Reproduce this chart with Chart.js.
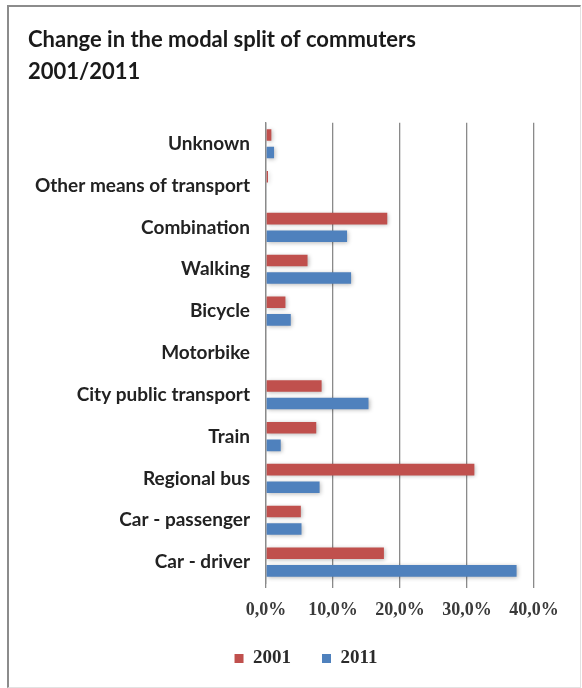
<!DOCTYPE html>
<html>
<head>
<meta charset="utf-8">
<script src="https://cdn.jsdelivr.net/npm/chart.js@4"></script>
<style>
  body { margin: 0; background: #fff; }
  #frame {
    position: absolute; left: 7px; top: 5px; width: 571px; height: 680px;
    border-left: 2px solid #8c8c8c; border-top: 2px solid #8c8c8c;
    border-right: 1px solid #e2e2e2; border-bottom: 1px solid #e2e2e2;
  }
  #chart { display: block; }
</style>
</head>
<body>
<div id="frame"><canvas id="chart" width="571" height="680"></canvas></div>
<script>
// modes of transport, top to bottom
const categories = [
    'Unknown', 'Other means of transport', 'Combination', 'Walking', 'Bicycle',
    'Motorbike', 'City public transport', 'Train', 'Regional bus',
    'Car - passenger', 'Car - driver'
];
// share of commuters in %
const values2001 = [0.8, 0.3, 18.1, 6.2, 2.9, 0.1, 8.3, 7.5, 31.1, 5.2, 17.6];
const values2011 = [1.2, 0.1, 12.1, 12.7, 3.7, 0.1, 15.3, 2.2, 8.0, 5.3, 37.4];
const seriesNames = ['2001', '2011'];
const xTicks = [0, 10, 20, 30, 40];

const SANS = 'Lato, "Open Sans", sans-serif';
const SERIF = '"Liberation Serif", "DejaVu Serif", serif';

// soft shadow behind the bars
const barShadow = {
    id: 'barShadow',
    beforeDatasetsDraw(chart) {
        const ctx = chart.ctx;
        ctx.save();
        ctx.shadowColor = 'rgba(0,0,0,0.28)';
        ctx.shadowBlur = 4;
        ctx.shadowOffsetX = 1;
        ctx.shadowOffsetY = 1;
    },
    afterDatasetsDraw(chart) {
        chart.ctx.restore();
    }
};

// nudge the legend right and up a little
const legendOffset = {
    id: 'legendOffset',
    afterLayout(chart) {
        const lg = chart.legend;
        lg.left += 25;
        lg.right += 25;
        lg.top -= 9;
        lg.bottom -= 9;
    }
};

function makeBarChart() {
    const ctx = document.getElementById('chart').getContext('2d');
    const myChart = new Chart(ctx, {
        type: 'bar',
        data: {
            labels: categories,
            datasets: [{
                label: seriesNames[0],
                data: values2001,
                backgroundColor: '#c0504d'
            }, {
                label: seriesNames[1],
                data: values2011,
                backgroundColor: '#4f81bd'
            }]
        },
        options: {
            indexAxis: 'y',
            responsive: false,
            animation: false,
            categoryPercentage: 0.84,
            barPercentage: 0.66,
            layout: { padding: { left: 19, right: 46, top: 17, bottom: 0 } },
            plugins: {
                title: {
                    display: true,
                    text: ['Change in the modal split of commuters', '2001/2011'],
                    align: 'start',
                    color: '#1a1a1a',
                    font: { family: SANS, size: 22, weight: 'bold', lineHeight: 1.45 },
                    padding: { top: 0, bottom: 35 }
                },
                legend: {
                    position: 'bottom',
                    labels: {
                        boxWidth: 9,
                        boxHeight: 9,
                        padding: 31,
                        color: '#2a2a2a',
                        font: { family: SERIF, size: 19, weight: 'bold' }
                    }
                },
                tooltip: { enabled: false }
            },
            scales: {
                x: {
                    min: 0,
                    max: 40,
                    afterBuildTicks: (axis) => { axis.ticks = xTicks.map(v => ({ value: v })); },
                    afterFit: (axis) => { axis.height = 44; },
                    grid: { color: '#8a8a8a', lineWidth: 1.3, tickLength: 5 },
                    border: { display: false },
                    ticks: {
                        color: '#3a3a3a',
                        padding: 12,
                        font: { family: SERIF, size: 18, weight: 'bold' },
                        callback: (v) => v.toFixed(1).replace('.', ',') + '%'
                    }
                },
                y: {
                    afterFit: (axis) => { axis.width = 238; },
                    grid: { display: false },
                    border: { display: true, color: '#8a8a8a', width: 1.3 },
                    ticks: {
                        color: '#222',
                        padding: 8,
                        font: { family: SANS, size: 19, weight: 'bold' }
                    }
                }
            }
        },
        plugins: [barShadow, legendOffset]
    });
    myChart.render();
}

makeBarChart();
</script>
</body>
</html>
